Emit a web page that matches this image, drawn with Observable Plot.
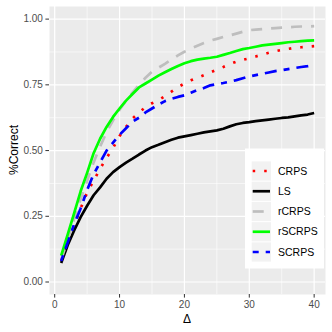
<!DOCTYPE html>
<html>
<head>
<meta charset="utf-8">
<script src="https://cdn.jsdelivr.net/npm/d3@7"></script>
<script src="https://cdn.jsdelivr.net/npm/@observablehq/plot@0.6"></script>
<style>
  html, body { margin: 0; padding: 0; background: #fff; }
  #wrap { position: relative; width: 332px; height: 332px; font-family: "Liberation Sans", Arial, sans-serif; }
  #wrap svg { position: absolute; left: 0; top: 0; }
</style>
</head>
<body>
<div id="wrap"></div>
<script>
const delta = [1,2,3,4,5,6,7,8,9,10,11,12,13,14,15,16,17,18,19,20,21,22,23,24,25,26,27,28,29,30,31,32,33,34,35,36,37,38,39,40];

const CRPS = [0.08,0.145,0.215,0.28,0.34,0.385,0.431,0.472,0.51,0.555,0.59,0.622,0.645,0.665,0.68,0.692,0.707,0.724,0.741,0.755,0.767,0.777,0.787,0.797,0.808,0.818,0.829,0.838,0.845,0.851,0.858,0.865,0.872,0.878,0.883,0.887,0.891,0.893,0.895,0.897];
const LS = [0.072,0.14,0.196,0.247,0.29,0.33,0.36,0.393,0.418,0.437,0.454,0.469,0.485,0.50,0.513,0.522,0.532,0.541,0.549,0.554,0.559,0.564,0.569,0.573,0.577,0.583,0.592,0.60,0.605,0.608,0.612,0.615,0.618,0.621,0.624,0.626,0.63,0.634,0.637,0.643];
const rCRPS = [0.085,0.16,0.24,0.315,0.385,0.455,0.515,0.57,0.615,0.655,0.69,0.72,0.75,0.777,0.80,0.815,0.83,0.846,0.862,0.876,0.888,0.899,0.909,0.918,0.925,0.932,0.938,0.945,0.952,0.958,0.96,0.962,0.964,0.966,0.968,0.969,0.971,0.972,0.972,0.973];
const rSCRPS = [0.10,0.18,0.262,0.345,0.415,0.49,0.545,0.59,0.628,0.66,0.69,0.715,0.74,0.755,0.77,0.785,0.798,0.81,0.822,0.832,0.84,0.846,0.85,0.853,0.857,0.864,0.871,0.879,0.886,0.89,0.895,0.90,0.903,0.906,0.909,0.912,0.914,0.916,0.918,0.919];
const SCRPS = [0.08,0.15,0.22,0.28,0.35,0.41,0.455,0.50,0.53,0.56,0.585,0.61,0.625,0.645,0.66,0.675,0.688,0.697,0.704,0.71,0.72,0.73,0.738,0.748,0.753,0.757,0.762,0.768,0.775,0.782,0.787,0.792,0.797,0.802,0.806,0.81,0.814,0.818,0.821,0.825];

const seriesNames = ["CRPS","LS","rCRPS","rSCRPS","SCRPS"];
const seriesValues = {CRPS, LS, rCRPS, rSCRPS, SCRPS};
const seriesColors = ["#FF0000","#000000","#BEBEBE","#00FF00","#0000FF"];
const seriesDash = ["2.5,9","none","11,9","6,7,12,7","none"];
seriesDash[4] = "6,7,12,7";
seriesDash[3] = "none";

const xTicks = [0,10,20,30,40];
const xMinor = [5,15,25,35];
const yTicks = [0,0.25,0.5,0.75,1];
const yMinor = [0.125,0.375,0.625,0.875];

const LW = 2.7;

const lineMarks = seriesNames.map((name, i) => {
  const data = delta.map((d, j) => ({x: d, y: seriesValues[name][j]}));
  return Plot.line(data, {
    x: "x", y: "y",
    stroke: seriesColors[i],
    strokeWidth: LW,
    strokeDasharray: seriesDash[i],
    strokeLinecap: "butt",
    strokeLinejoin: "round"
  });
});

const plot = Plot.plot({
  width: 332,
  height: 332,
  marginLeft: 49,
  marginRight: 7,
  marginTop: 6,
  marginBottom: 38,
  style: {fontFamily: "Liberation Sans, Arial, sans-serif", background: "transparent"},
  x: {domain: [-0.8, 41.75]},
  y: {domain: [-0.0475, 1.048]},
  marks: [
    Plot.frame({fill: "#EBEBEB", stroke: null}),
    Plot.gridX(xMinor, {stroke: "#FFFFFF", strokeOpacity: 1, strokeWidth: 0.6}),
    Plot.gridY(yMinor, {stroke: "#FFFFFF", strokeOpacity: 1, strokeWidth: 0.6}),
    Plot.gridX(xTicks, {stroke: "#FFFFFF", strokeOpacity: 1, strokeWidth: 1.2}),
    Plot.gridY(yTicks, {stroke: "#FFFFFF", strokeOpacity: 1, strokeWidth: 1.2}),
    Plot.axisX({ticks: xTicks, tickSize: 3.6, tickPadding: 3, label: null, fontSize: 10, stroke: "#333333", fill: "#4D4D4D"}),
    Plot.axisY({ticks: yTicks, tickSize: 3.6, tickPadding: 3, label: null, fontSize: 10, tickFormat: d3.format(".2f"), stroke: "#333333", fill: "#4D4D4D"}),
    ...lineMarks
  ]
});

const wrap = document.getElementById("wrap");
wrap.appendChild(plot);

// overlay: axis titles and legend
const ov = d3.select(wrap).append("svg")
  .attr("width", 332).attr("height", 332)
  .style("font-family", "Liberation Sans, Arial, sans-serif");

ov.append("text").attr("x", 187).attr("y", 323.3)
  .attr("text-anchor", "middle").attr("font-size", 12).attr("fill", "#000")
  .text("Δ");
ov.append("text").attr("transform", "translate(18.3,150) rotate(-90)")
  .attr("text-anchor", "middle").attr("font-size", 12).attr("fill", "#000")
  .text("%Correct");

const lg = ov.append("g");
lg.append("rect").attr("x", 245).attr("y", 148.5).attr("width", 79).attr("height", 120).attr("fill", "#FFFFFF");
seriesNames.forEach((name, i) => {
  const cy = 171 + i * 20.25;
  lg.append("rect").attr("x", 251.7).attr("y", cy - 9.6).attr("width", 19.3).attr("height", 19.2).attr("fill", "#F2F2F2");
  lg.append("line").attr("x1", 252.7).attr("x2", 270).attr("y1", cy).attr("y2", cy)
    .attr("stroke", seriesColors[i]).attr("stroke-width", LW)
    .attr("stroke-dasharray", seriesDash[i]).attr("stroke-linecap", "butt");
  lg.append("text").attr("x", 278).attr("y", cy).attr("dy", "0.35em")
    .attr("font-size", 10.5).attr("fill", "#000").text(name);
});
</script>
</body>
</html>
